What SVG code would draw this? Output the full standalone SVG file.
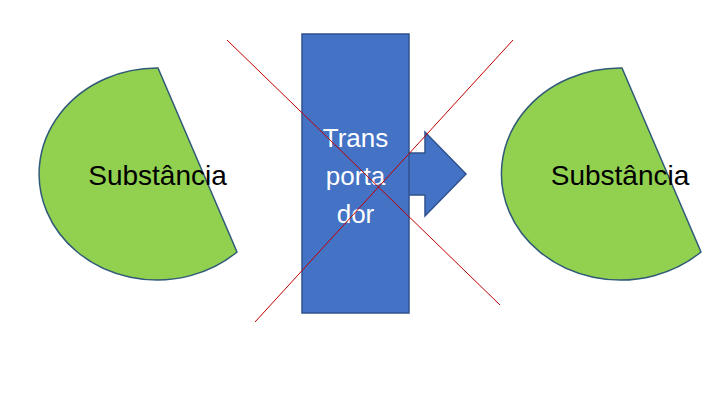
<svg xmlns="http://www.w3.org/2000/svg" width="723" height="415" viewBox="0 0 723 415">
  <style>
    .pie { fill: #92D050; stroke: #2F5A78; stroke-width: 1.5; }
    .blue { fill: #4472C4; stroke: #2F528F; stroke-width: 1.5; }
    .lbl { font-family: "Liberation Sans", Arial, sans-serif; font-size: 28px; fill: #000; text-anchor: middle; }
    .wlbl { font-family: "Liberation Sans", Arial, sans-serif; font-size: 26px; fill: #FFFFFF; text-anchor: middle; }
    .cross { stroke: #C00000; stroke-width: 1; fill: none; }
  </style>
  <rect width="723" height="415" fill="#FFFFFF"/>
  <g id="substancia-left">
    <path class="pie" d="M 158 68 L 237 252 A 118 106 0 1 1 158 68 Z"/>
    <text class="lbl" x="157.5" y="185">Substância</text>
  </g>
  <g id="substancia-right">
    <path class="pie" d="M 622 68 L 701 252 A 119 106 0 1 1 622 68 Z"/>
    <text class="lbl" x="620" y="185">Substância</text>
  </g>
  <g id="transportador">
    <path class="blue" d="M 400 153 L 425 153 L 425 132 L 466 174 L 425 216 L 425 195 L 400 195 Z"/>
    <rect class="blue" x="302" y="34" width="107" height="279"/>
    <text class="wlbl" x="355.5" y="147">Trans</text>
    <text class="wlbl" x="355.5" y="185">porta</text>
    <text class="wlbl" x="355.5" y="223">dor</text>
  </g>
  <g id="connectors">
    <line class="cross" x1="227" y1="40" x2="500" y2="305"/>
    <line class="cross" x1="513" y1="40" x2="255" y2="322"/>
  </g>
</svg>
